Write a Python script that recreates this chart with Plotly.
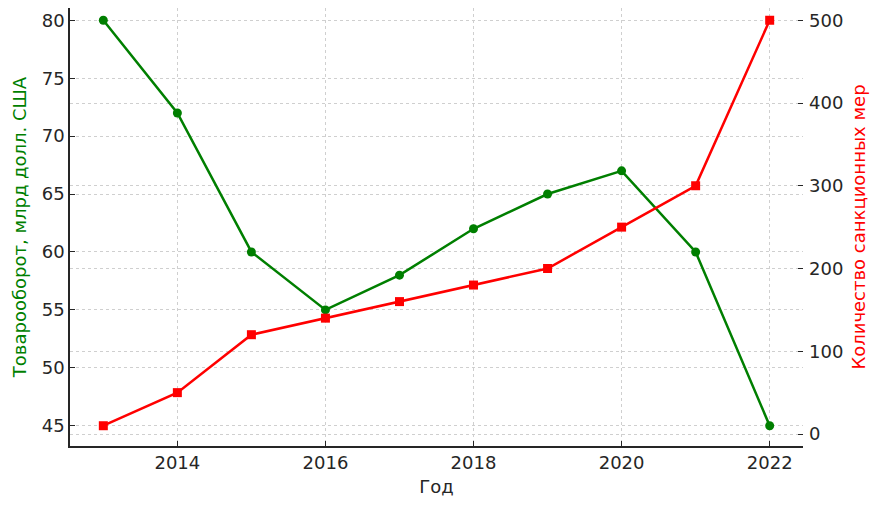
import plotly.graph_objects as go

years = [2013, 2014, 2015, 2016, 2017, 2018, 2019, 2020, 2021, 2022]
trade = [80, 72, 60, 55, 58, 62, 65, 67, 60, 45]
sanctions = [10, 50, 120, 140, 160, 180, 200, 250, 300, 500]
x_ticks = [2014, 2016, 2018, 2020, 2022]
left_ticks = [45, 50, 55, 60, 65, 70, 75, 80]
right_ticks = [0, 100, 200, 300, 400, 500]

GREEN = "#007f00"
RED = "#ff0000"
FONT = "DejaVu Sans"
AX = "#262626"
GRID = "#cfcfcf"
DASH = "3px,3px"

fig = go.Figure()
fig.add_trace(go.Scatter(
    x=years, y=trade, mode="lines+markers", name="Товарооборот",
    line=dict(color=GREEN, width=2.5),
    marker=dict(symbol="circle", size=9, color=GREEN),
    yaxis="y"))
fig.add_trace(go.Scatter(
    x=years, y=sanctions, mode="lines+markers", name="Санкции",
    line=dict(color=RED, width=2.5),
    marker=dict(symbol="square", size=9, color=RED),
    yaxis="y2"))

fig.update_layout(
    width=877, height=502,
    margin=dict(l=62, r=82, t=0, b=64, pad=0),
    paper_bgcolor="white", plot_bgcolor="white",
    showlegend=False,
    font=dict(family=FONT, size=18, color=AX),
    xaxis=dict(
        range=[2012.55, 2022.45], tickvals=x_ticks,
        automargin=False,
        showline=True, linecolor=AX, linewidth=1.5,
        ticks="inside", ticklen=5, tickcolor=AX,
        showgrid=True, gridcolor=GRID, griddash=DASH, gridwidth=1,
        zeroline=False,
        title=dict(text="Год", font=dict(size=18, color=AX), standoff=8),
        tickfont=dict(size=18, color=AX),
    ),
    yaxis=dict(
        range=[43.25, 81.06], tickvals=left_ticks,
        automargin=False,
        showline=True, linecolor=AX, linewidth=1.5,
        ticks="inside", ticklen=5, tickcolor=AX,
        showgrid=True, gridcolor=GRID, griddash=DASH, gridwidth=1,
        zeroline=False,
        title=dict(text="Товарооборот, млрд долл. США", font=dict(size=18, color=GREEN), standoff=10),
        tickfont=dict(size=18, color=AX),
    ),
    yaxis2=dict(
        range=[-14.5, 514.8], tickvals=right_ticks,
        overlaying="y", side="right",
        automargin=False,
        showline=False,
        ticks="inside", ticklen=5, tickcolor=AX,
        ticklabelstandoff=5,
        showgrid=True, gridcolor=GRID, griddash=DASH, gridwidth=1,
        zeroline=False,
        title=dict(text="Количество санкционных мер", font=dict(size=18, color=RED), standoff=10),
        tickfont=dict(size=18, color=AX),
    ),
)

fig.write_html("out.html")
